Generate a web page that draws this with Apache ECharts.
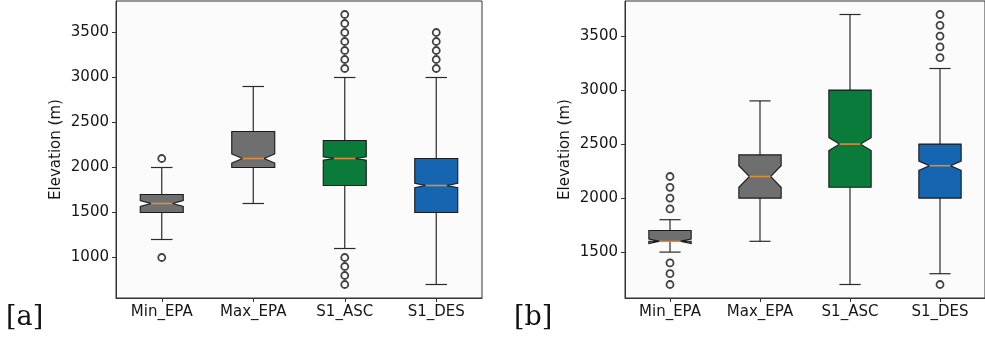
<!DOCTYPE html>
<html>
<head>
<meta charset="utf-8">
<script src="https://cdn.jsdelivr.net/npm/echarts@6/dist/echarts.min.js"></script>
<style>
html,body{margin:0;padding:0;background:#fff;}
#chart{width:985px;height:344px;}
</style>
</head>
<body>
<div id="chart"></div>
<script>
// ---------- data ----------
const categories = ['Min_EPA', 'Max_EPA', 'S1_ASC', 'S1_DES'];
const yTicksA = [1000, 1500, 2000, 2500, 3000, 3500];
const yTicksB = [1500, 2000, 2500, 3000, 3500];

// panel [a]
const aWhiskerLow  = [1200, 1600, 1100, 700];
const aQ1          = [1500, 2000, 1800, 1500];
const aMedian      = [1600, 2100, 2100, 1800];
const aQ3          = [1700, 2400, 2300, 2100];
const aWhiskerHigh = [2000, 2900, 3000, 3000];
const aNotchHalf   = [33, 50, 18, 25];
const aOutliers = [
  [2100, 1000],
  [],
  [3100, 3200, 3300, 3400, 3500, 3600, 3700, 1000, 900, 800, 700],
  [3100, 3200, 3300, 3400, 3500]
];

// panel [b]
const bWhiskerLow  = [1500, 1600, 1200, 1300];
const bQ1          = [1600, 2000, 2100, 2000];
const bMedian      = [1600, 2200, 2500, 2300];
const bQ3          = [1700, 2400, 3000, 2500];
const bWhiskerHigh = [1800, 2900, 3700, 3200];
const bNotchHalf   = [20, 100, 60, 43];
const bOutliers = [
  [2200, 2100, 2000, 1900, 1400, 1300, 1200],
  [],
  [],
  [3700, 3600, 3500, 3400, 3300, 1200]
];

// ---------- styles ----------
const boxColors = ['#6f6f6f', '#6f6f6f', '#0a7b3a', '#1565b1'];
const FONT = 'DejaVu Sans';
const TXT = '#161616';

function boxData(low, q1, med, q3, high, nh) {
  return categories.map((c, i) => [i, low[i], q1[i], med[i], q3[i], high[i], nh[i]]);
}
function outlierData(out) {
  const d = [];
  out.forEach((arr, i) => arr.forEach(v => d.push([i, v])));
  return d;
}

function renderBox(params, api) {
  const i = api.value(0);
  const low = api.value(1), q1 = api.value(2), med = api.value(3),
        q3 = api.value(4), high = api.value(5), nh = api.value(6);
  const band = api.size([1, 0])[0];
  const x = api.coord([i, med])[0];
  const Y = v => api.coord([i, v])[1];
  const hw = band * 0.235;
  const cw = hw * 0.5;
  const L = x - hw, R = x + hw;
  const nlo = med - nh, nhi = med + nh;
  const pts = [
    [L, Y(q1)], [R, Y(q1)], [R, Y(nlo)], [x + cw, Y(med)], [R, Y(nhi)], [R, Y(q3)],
    [L, Y(q3)], [L, Y(nhi)], [x - cw, Y(med)], [L, Y(nlo)], [L, Y(q1)]
  ];
  const wStyle = {stroke: '#2a2a2a', lineWidth: 1.2, fill: null};
  return {
    type: 'group',
    children: [
      {type: 'line', shape: {x1: x, y1: Y(low), x2: x, y2: Y(q1)}, style: wStyle},
      {type: 'line', shape: {x1: x, y1: Y(q3), x2: x, y2: Y(high)}, style: wStyle},
      {type: 'line', shape: {x1: x - cw, y1: Y(low), x2: x + cw, y2: Y(low)}, style: wStyle},
      {type: 'line', shape: {x1: x - cw, y1: Y(high), x2: x + cw, y2: Y(high)}, style: wStyle},
      {type: 'polygon', shape: {points: pts},
        style: {fill: boxColors[i], stroke: '#1a1a1a', lineWidth: 1.1}},
      {type: 'line', shape: {x1: x - cw, y1: Y(med), x2: x + cw, y2: Y(med)},
        style: {stroke: '#e08a3c', lineWidth: 1.6}}
    ]
  };
}

function xAxisCfg(gi) {
  return {
    type: 'category', gridIndex: gi, data: categories, boundaryGap: true,
    axisLine: {show: true, lineStyle: {color: '#333', width: 1}},
    axisTick: {show: true, alignWithLabel: true, length: 4, lineStyle: {color: '#333'}},
    axisLabel: {fontFamily: FONT, fontSize: 15, color: TXT, margin: 7},
    splitLine: {show: false}
  };
}
function yAxisCfg(gi, min, max, ticks) {
  return {
    type: 'value', gridIndex: gi, min: min, max: max,
    name: 'Elevation (m)', nameLocation: 'middle', nameGap: 52, nameRotate: 90,
    nameTextStyle: {fontFamily: FONT, fontSize: 15, color: TXT},
    axisLine: {show: true, lineStyle: {color: '#333', width: 1}},
    axisTick: {show: true, length: 4, customValues: ticks, lineStyle: {color: '#333'}},
    axisLabel: {fontFamily: FONT, fontSize: 15, color: TXT, margin: 7, customValues: ticks,
      formatter: v => String(v)},
    splitLine: {show: false}
  };
}
function scatterCfg(idx, data) {
  return {
    type: 'scatter', xAxisIndex: idx, yAxisIndex: idx, data: data,
    symbol: 'circle', symbolSize: 7,
    itemStyle: {color: '#fff', borderColor: '#111', borderWidth: 1.8},
    z: 5
  };
}

const chart = echarts.init(document.getElementById('chart'), null, {renderer: 'canvas'});
chart.setOption({
  animation: false,
  backgroundColor: '#ffffff',
  grid: [
    {left: 116, top: 1, width: 366, height: 297, show: true,
      backgroundColor: '#fbfbfb', borderColor: '#333', borderWidth: 1},
    {left: 625, top: 1, width: 367, height: 297, show: true,
      backgroundColor: '#fbfbfb', borderColor: '#333', borderWidth: 1}
  ],
  xAxis: [xAxisCfg(0), xAxisCfg(1)],
  yAxis: [yAxisCfg(0, 550, 3850, yTicksA), yAxisCfg(1, 1075, 3825, yTicksB)],
  series: [
    {type: 'custom', xAxisIndex: 0, yAxisIndex: 0, renderItem: renderBox,
      data: boxData(aWhiskerLow, aQ1, aMedian, aQ3, aWhiskerHigh, aNotchHalf), z: 3},
    {type: 'custom', xAxisIndex: 1, yAxisIndex: 1, renderItem: renderBox,
      data: boxData(bWhiskerLow, bQ1, bMedian, bQ3, bWhiskerHigh, bNotchHalf), z: 3},
    scatterCfg(0, outlierData(aOutliers)),
    scatterCfg(1, outlierData(bOutliers))
  ],
  graphic: [
    {type: 'text', left: 6, top: 304,
      style: {text: '[a]', fontFamily: 'DejaVu Serif', fontSize: 27, fill: '#111'}},
    {type: 'text', left: 514, top: 304,
      style: {text: '[b]', fontFamily: 'DejaVu Serif', fontSize: 27, fill: '#111'}}
  ]
});
</script>
</body>
</html>
